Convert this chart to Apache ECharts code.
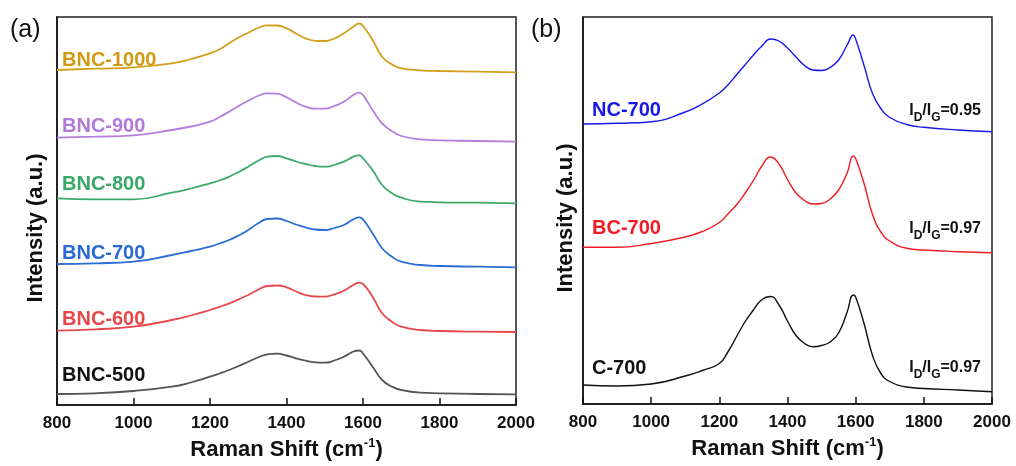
<!DOCTYPE html>
<html>
<head>
<meta charset="utf-8">
<script src="https://cdn.jsdelivr.net/npm/echarts@6/dist/echarts.min.js"></script>
<style>
html,body{margin:0;padding:0;background:#fff;}
#chart{width:1016px;height:466px;}
</style>
</head>
<body>
<div id="chart"></div>
<script>
// ---------- DATA (intensity in arbitrary units, offset-stacked as in the figure) ----------
var shiftA = [800, 900, 1000, 1100, 1150, 1200, 1225, 1250, 1275, 1300, 1325, 1350, 1375, 1400, 1425, 1450, 1475, 1500, 1525, 1550, 1575, 1590, 1600, 1625, 1650, 1675, 1700, 1750, 1800, 1900, 2000];
var bnc1000 = [335, 336.3, 337.7, 341.7, 346, 351.7, 355.7, 361.7, 367.5, 372.3, 377, 379.7, 379.5, 376.7, 371.5, 366.7, 364.2, 364, 366.5, 371.7, 378.3, 381.5, 379, 365, 348.3, 340.7, 336.7, 334.7, 334, 333.3, 332.7];
var bnc900  = [267.3, 268.3, 269.7, 275, 278.5, 283.3, 288, 293.3, 299, 304.3, 309, 311.7, 311.3, 307.7, 302.5, 298.3, 296.3, 296.3, 299, 303.3, 310, 312.3, 310, 295, 281.7, 274, 269, 265.7, 264.7, 264, 263.3];
var bnc800  = [206.7, 205.7, 205.7, 212.3, 216.5, 221.7, 224.5, 228.3, 233, 238.3, 244, 248.3, 249, 246.7, 243.5, 241, 239, 238.3, 240, 243.3, 248.3, 249.7, 246.7, 235, 220, 212, 207.3, 203.3, 202.7, 202.3, 201.7];
var bnc700  = [141, 141.7, 143.3, 150, 154, 158.3, 161.5, 165, 169.5, 175, 181.5, 186, 186.5, 184, 180.5, 177.7, 175.5, 175, 177, 180, 185.7, 187.7, 185.7, 171.7, 156.7, 148.5, 143.3, 140, 139, 138.3, 137.7];
var bnc600  = [74.3, 75.7, 78.3, 85, 89.5, 95, 98.2, 101.7, 105.7, 110, 115, 119, 119.5, 117.7, 113.5, 110, 108.5, 108.3, 110.7, 114.3, 120, 122.3, 121, 108.3, 91.7, 83.5, 78.3, 75, 74, 73.3, 73];
var bnc500  = [11, 11.7, 14, 18.3, 22.5, 28.3, 31.5, 35, 39, 43.3, 47.5, 50.7, 51.3, 49.5, 46.7, 44.3, 42.7, 42.3, 44.5, 48.3, 53.5, 54.5, 51.5, 38.3, 25, 18.5, 15, 12.3, 11.7, 11, 10.7];
var namesA  = ['BNC-1000', 'BNC-900', 'BNC-800', 'BNC-700', 'BNC-600', 'BNC-500'];

var shiftB = [800, 900, 1000, 1100, 1150, 1200, 1225, 1250, 1275, 1300, 1325, 1350, 1375, 1400, 1425, 1450, 1475, 1500, 1525, 1550, 1575, 1593, 1600, 1625, 1650, 1675, 1700, 1750, 1800, 1900, 2000];
var nc700 = [280, 280.7, 282.3, 292, 300, 311, 319, 329, 339, 349, 358, 365, 363, 356, 347, 338.5, 334, 333.5, 336.5, 344, 359, 369, 365, 338, 310, 295, 286.5, 279.5, 276.7, 274, 272.3];
var bc700 = [156.7, 156.7, 160.5, 167, 172.5, 181.5, 190, 199, 210.5, 223.5, 238, 247, 240, 224.5, 211, 203.5, 200, 200.5, 205, 214, 231, 248, 245.5, 220, 189, 171.5, 163, 155.7, 154, 152.3, 151.3];
var c700  = [19, 18, 20, 28, 33.5, 40.5, 52, 67, 82, 94, 104.5, 107.5, 99, 83, 68.5, 60.5, 57.3, 58.5, 62, 71, 92, 109, 107, 80, 48, 30, 22.5, 17, 15.5, 14, 12.3];
var namesB = ['NC-700', 'BC-700', 'C-700'];
var ratiosB = ['0.95', '0.97', '0.97'];

var xTicks = [800, 1000, 1200, 1400, 1600, 1800, 2000];

// ---------- CHART ----------
var FONT = '"Liberation Sans", Arial, Helvetica, sans-serif';
function zip(xs, ys) { return xs.map(function (x, i) { return [x, ys[i]]; }); }

var colorsA = ['#D3A01B', '#B47DDB', '#3DAA6C', '#2C6ED5', '#E6484B', '#555555'];
var textColorsA = ['#D09A14', '#B07AD8', '#38A868', '#2A6BD3', '#E6474A', '#111111'];
var colorsB = ['#1818E6', '#EE1C24', '#111111'];

function xAxisCfg(g) {
  return {
    gridIndex: g, type: 'value', min: xTicks[0], max: xTicks[xTicks.length - 1], interval: 200,
    axisLine: { show: true, onZero: false, lineStyle: { color: '#111', width: 1.5 } },
    axisTick: { show: true, inside: true, length: 7, lineStyle: { color: '#111', width: 1.5 } },
    axisLabel: { fontFamily: FONT, fontWeight: 'bold', fontSize: 17, color: '#111', margin: 10,
                 formatter: function (v) { return String(v); } },
    splitLine: { show: false },
    name: '{a|Raman Shift (cm}{b|-1}{a|)}',
    nameLocation: 'middle', nameGap: 30,
    nameTextStyle: {
      rich: {
        a: { fontFamily: FONT, fontWeight: 'bold', fontSize: 22, color: '#111', lineHeight: 26 },
        b: { fontFamily: FONT, fontWeight: 'bold', fontSize: 13, color: '#111', lineHeight: 26, verticalAlign: 'top', padding: [0, 0, 8, 0] }
      }
    }
  };
}
function yAxisCfg(g, max) {
  return {
    gridIndex: g, type: 'value', min: 0, max: max,
    axisLine: { show: true, lineStyle: { color: '#111', width: 1.5 } },
    axisTick: { show: false }, axisLabel: { show: false }, splitLine: { show: false }
  };
}

var series = [];
[bnc1000, bnc900, bnc800, bnc700, bnc600, bnc500].forEach(function (ys, i) {
  series.push({
    name: namesA[i], type: 'line', xAxisIndex: 0, yAxisIndex: 0, data: zip(shiftA, ys),
    showSymbol: false, smooth: 0.5,
    lineStyle: { color: colorsA[i], width: 1.8 }, itemStyle: { color: colorsA[i] }
  });
});
[nc700, bc700, c700].forEach(function (ys, i) {
  series.push({
    name: namesB[i], type: 'line', xAxisIndex: 1, yAxisIndex: 1, data: zip(shiftB, ys),
    showSymbol: false, smooth: 0.5,
    lineStyle: { color: colorsB[i], width: 1.4 }, itemStyle: { color: colorsB[i] }
  });
});

var graphics = [];
function txt(x, y, s, size, weight, color, align, rot) {
  graphics.push({
    type: 'text', x: x, y: y, rotation: rot || 0,
    style: { text: s, fontFamily: FONT, fontSize: size, fontWeight: weight, fill: color, align: align || 'left', verticalAlign: 'middle' }
  });
}
txt(10, 30, '(a)', 25, 'normal', '#111');
txt(531, 30, '(b)', 25, 'normal', '#111');
txt(36, 228, 'Intensity (a.u.)', 22, 'bold', '#111', 'center', Math.PI / 2);
txt(566, 218, 'Intensity (a.u.)', 22, 'bold', '#111', 'center', Math.PI / 2);

var labelYA = [60, 126, 184, 253, 319, 375];
namesA.forEach(function (n, i) { txt(62, labelYA[i], n, 20, 'bold', textColorsA[i]); });
var labelYB = [110, 228.5, 368.5];
namesB.forEach(function (n, i) { txt(592, labelYB[i], n, 20, 'bold', colorsB[i]); });

var ratioYB = [110.5, 228.5, 368];
ratiosB.forEach(function (r, i) {
  graphics.push({
    type: 'text', x: 981, y: ratioYB[i],
    style: {
      text: '{m|I}{s|D}{m|/I}{s|G}{m|=' + r + '}',
      align: 'right', verticalAlign: 'middle',
      rich: {
        m: { fontFamily: FONT, fontWeight: 'bold', fontSize: 16, fill: '#111', lineHeight: 26 },
        s: { fontFamily: FONT, fontWeight: 'bold', fontSize: 12, fill: '#111', lineHeight: 12, verticalAlign: 'bottom' }
      }
    }
  });
});

var chart = echarts.init(document.getElementById('chart'), null, { renderer: 'canvas' });
chart.setOption({
  animation: false,
  backgroundColor: '#fff',
  grid: [
    { left: 57, top: 17, width: 459, height: 388, show: true, borderColor: '#222', borderWidth: 1.5, containLabel: false },
    { left: 583, top: 17, width: 409, height: 387, show: true, borderColor: '#222', borderWidth: 1.5, containLabel: false }
  ],
  xAxis: [xAxisCfg(0), xAxisCfg(1)],
  yAxis: [yAxisCfg(0, 388), yAxisCfg(1, 387)],
  series: series,
  graphic: graphics
});
</script>
</body>
</html>
